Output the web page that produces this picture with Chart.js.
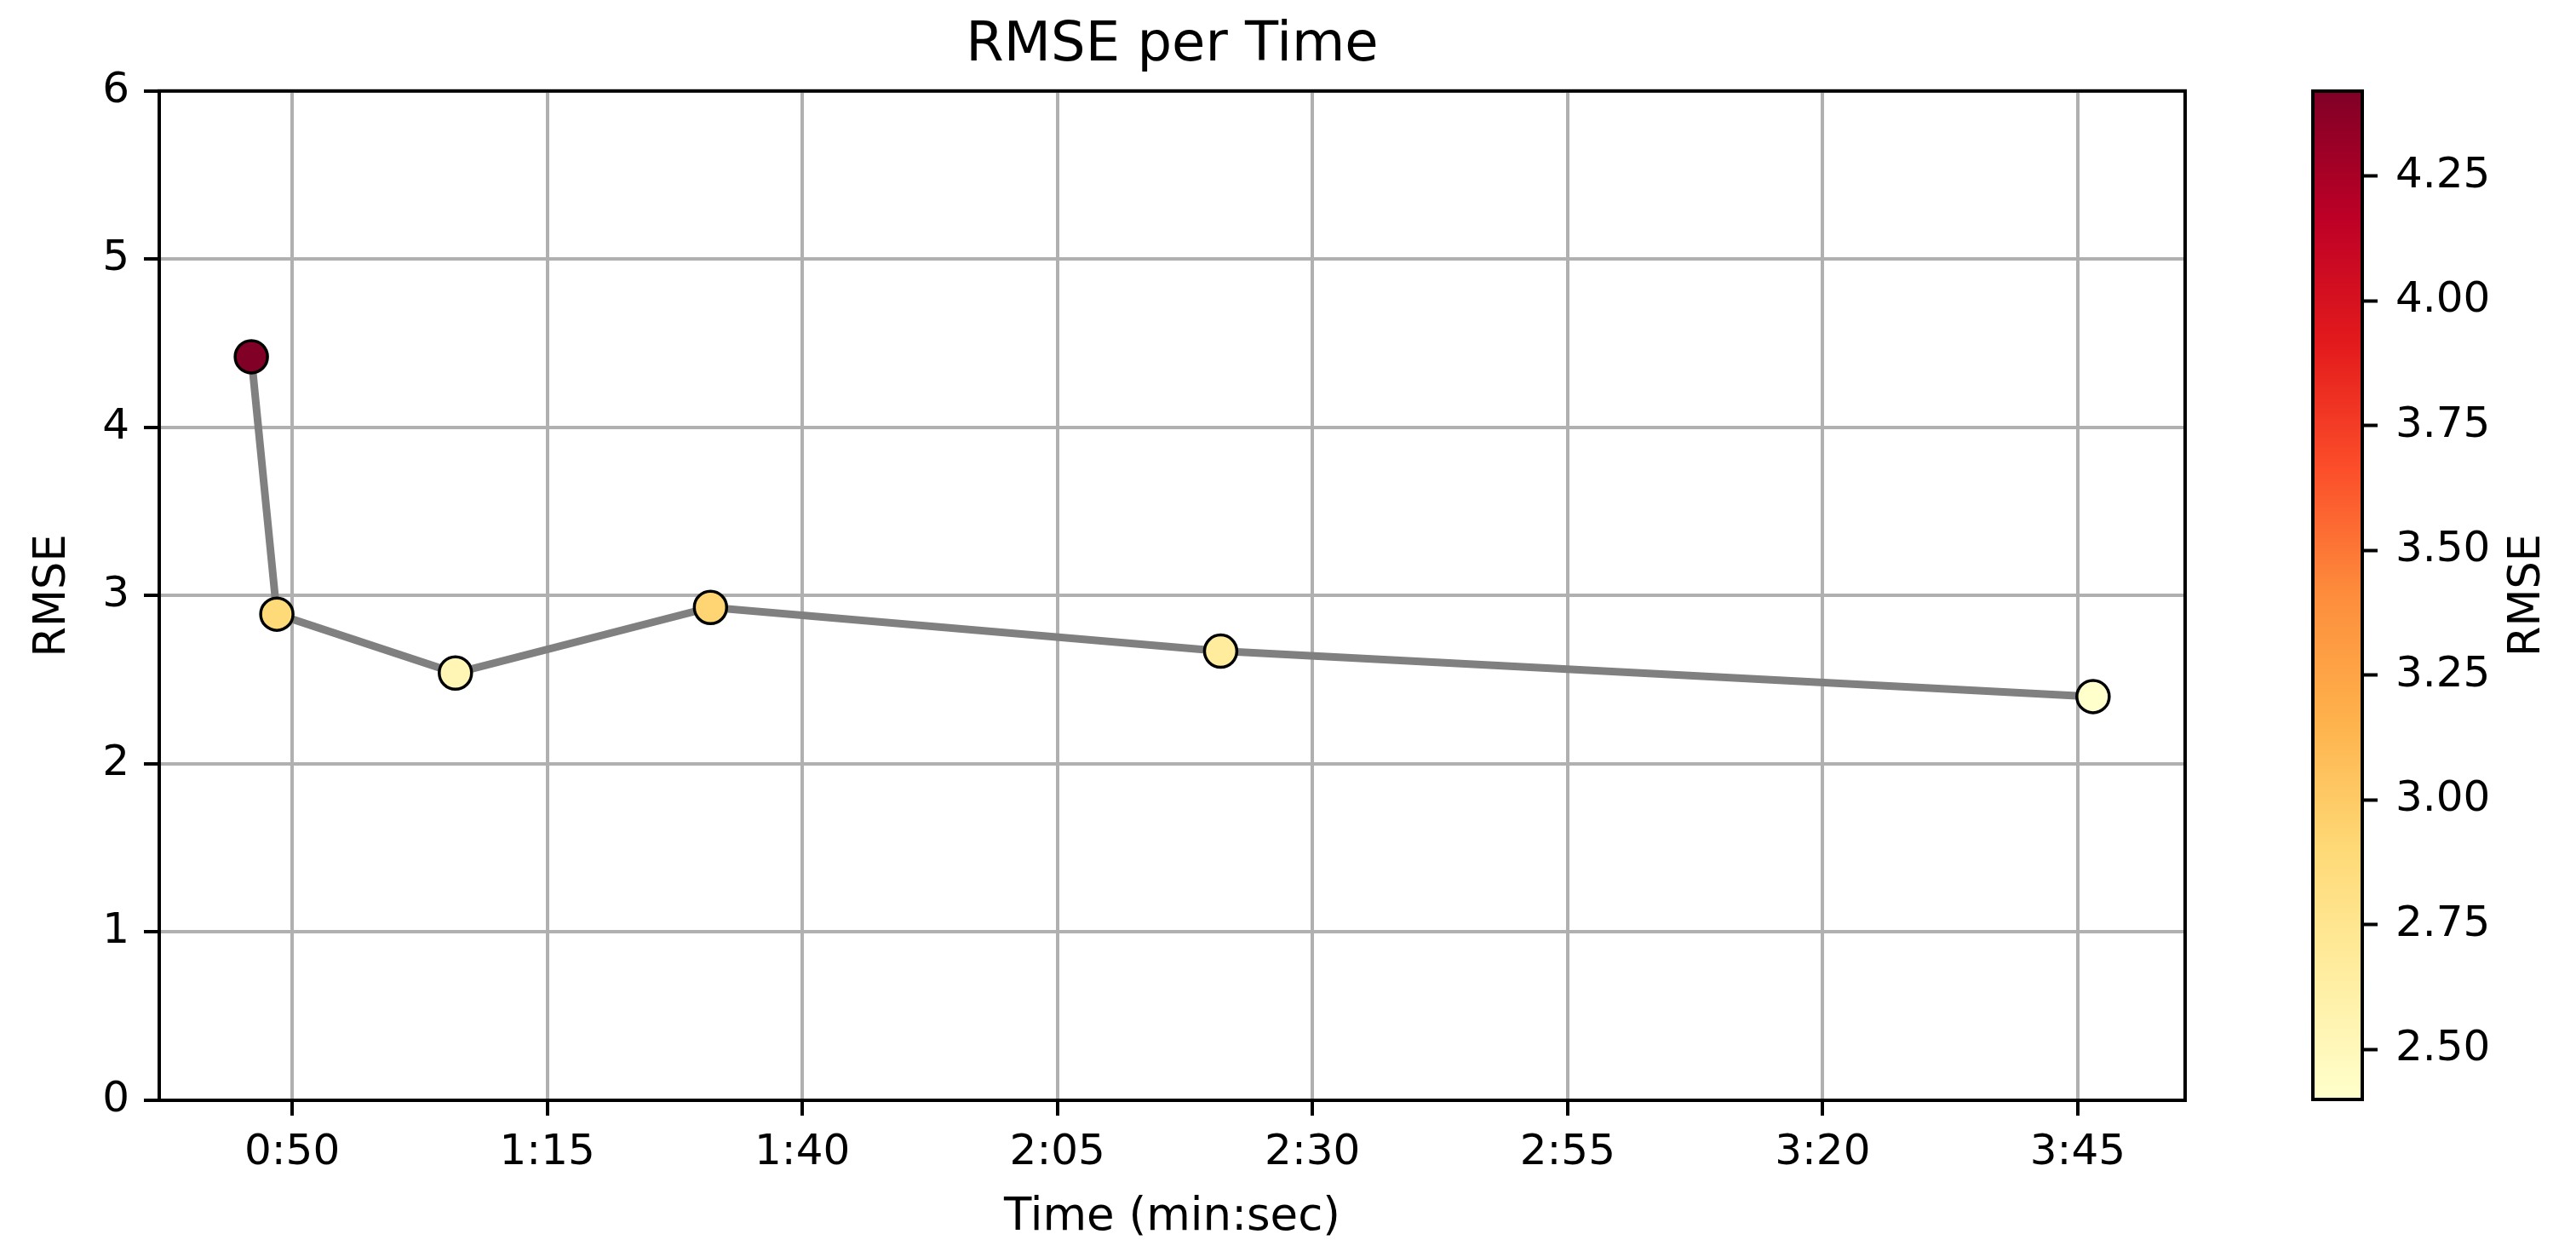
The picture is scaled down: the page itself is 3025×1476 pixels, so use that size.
<!DOCTYPE html>
<html>
<head>
<meta charset="utf-8">
<script src="https://cdn.jsdelivr.net/npm/chart.js@4/dist/chart.umd.min.js"></script>
<style>
  html, body { margin: 0; padding: 0; background: #fff; }
  #wrap { position: relative; width: 3025px; height: 1476px; }
  #main { position: absolute; left: 0; top: 0; }
  #cbar { position: absolute; left: 2650px; top: 0; }
</style>
</head>
<body>
<div id="wrap">
  <canvas id="main" width="2650" height="1476"></canvas>
  <canvas id="cbar" width="375" height="1476"></canvas>
</div>
<script>
// data
const timeSec = [46, 48.5, 66, 91, 141, 226.5];
const rmse = [4.42, 2.89, 2.54, 2.93, 2.67, 2.40];
const xTickValues = [50, 75, 100, 125, 150, 175, 200, 225];
const yTickValues = [0, 1, 2, 3, 4, 5, 6];
const cbTickValues = [2.50, 2.75, 3.00, 3.25, 3.50, 3.75, 4.00, 4.25];

// YlOrRd
const cmapStops = ['#ffffcc', '#ffeda0', '#fed976', '#feb24c', '#fd8d3c', '#fc4e2a', '#e31a1c', '#bd0026', '#800026'];

const FONT = "'DejaVu Sans', sans-serif";
Chart.defaults.font.family = FONT;
Chart.defaults.color = '#000';

const vmin = Math.min(...rmse);
const vmax = Math.max(...rmse);

function hexToRgb(h) {
    return [parseInt(h.slice(1, 3), 16), parseInt(h.slice(3, 5), 16), parseInt(h.slice(5, 7), 16)];
}
function cmap(t) {
    t = Math.max(0, Math.min(1, t));
    const pos = t * (cmapStops.length - 1);
    const i = Math.min(Math.floor(pos), cmapStops.length - 2);
    const f = pos - i;
    const a = hexToRgb(cmapStops[i]), b = hexToRgb(cmapStops[i + 1]);
    const c = a.map((v, k) => Math.round(v + (b[k] - v) * f));
    return `rgb(${c[0]},${c[1]},${c[2]})`;
}
function fmtTime(v) {
    const m = Math.floor(v / 60);
    const s = Math.round(v - m * 60);
    return m + ':' + String(s).padStart(2, '0');
}

const tmin = Math.min(...timeSec), tmax = Math.max(...timeSec);
const tpad = (tmax - tmin) * 0.05;

// box around the plot area
const frame = {
    id: 'frame',
    afterDraw(chart) {
        const a = chart.chartArea, c = chart.ctx;
        c.save();
        c.strokeStyle = '#000';
        c.lineWidth = 4;
        c.strokeRect(a.left, a.top, a.right - a.left, a.bottom - a.top);
        c.restore();
    }
};

new Chart(document.getElementById('main'), {
    type: 'scatter',
    data: {
        datasets: [{
            data: timeSec.map((t, i) => ({ x: t, y: rmse[i] })),
            showLine: true,
            borderColor: '#808080',
            borderWidth: 9,
            pointRadius: 19,
            pointHoverRadius: 19,
            pointBorderWidth: 3.5,
            pointBorderColor: '#000',
            pointBackgroundColor: rmse.map(v => cmap((v - vmin) / (vmax - vmin)))
        }]
    },
    options: {
        responsive: false,
        animation: false,
        layout: { padding: { left: 0, right: 84, top: 0, bottom: 0 } },
        plugins: {
            legend: { display: false },
            tooltip: { enabled: false },
            title: {
                display: true,
                fullSize: false,
                text: 'RMSE per Time',
                color: '#000',
                font: { size: 64, weight: 'normal' },
                padding: { top: 16, bottom: 14 }
            }
        },
        scales: {
            x: {
                type: 'linear',
                min: tmin - tpad,
                max: tmax + tpad,
                afterBuildTicks: s => { s.ticks = xTickValues.map(v => ({ value: v })); },
                afterFit: s => { s.height = 184; },
                ticks: { font: { size: 50 }, color: '#000', padding: 14, callback: v => fmtTime(v), maxRotation: 0, autoSkip: false },
                grid: { color: '#b0b0b0', lineWidth: 4, tickColor: '#000', tickLength: 18, tickWidth: 4 },
                border: { color: '#000', width: 4 },
                title: { display: true, text: 'Time (min:sec)', color: '#000', font: { size: 53 }, padding: { top: 0, bottom: 14 } }
            },
            y: {
                min: 0,
                max: 6,
                afterBuildTicks: s => { s.ticks = yTickValues.map(v => ({ value: v })); },
                afterFit: s => { s.width = 187; },
                ticks: { font: { size: 50 }, color: '#000', padding: 17 },
                grid: { color: '#b0b0b0', lineWidth: 4, tickColor: '#000', tickLength: 18, tickWidth: 4 },
                border: { color: '#000', width: 4 },
                title: { display: true, text: 'RMSE', color: '#000', font: { size: 51 }, padding: { top: 32, bottom: 0 } }
            }
        }
    },
    plugins: [frame]
});

// colorbar label, reading bottom to top
const cbLabel = {
    id: 'cbLabel',
    afterDraw(chart) {
        const a = chart.chartArea, c = chart.ctx;
        c.save();
        c.translate(chart.width - 56, (a.top + a.bottom) / 2);
        c.rotate(-Math.PI / 2);
        c.font = '51px ' + FONT;
        c.fillStyle = '#000';
        c.textAlign = 'center';
        c.textBaseline = 'middle';
        c.fillText('RMSE', 0, 0);
        c.restore();
    }
};

new Chart(document.getElementById('cbar'), {
    type: 'bar',
    data: {
        labels: ['RMSE'],
        datasets: [{
            data: [[vmin, vmax]],
            barPercentage: 1,
            categoryPercentage: 1,
            borderWidth: 0,
            backgroundColor: ctx => {
                const a = ctx.chart.chartArea;
                if (!a) return cmapStops[0];
                const g = ctx.chart.ctx.createLinearGradient(0, a.bottom, 0, a.top);
                cmapStops.forEach((col, i) => g.addColorStop(i / (cmapStops.length - 1), col));
                return g;
            }
        }]
    },
    options: {
        responsive: false,
        animation: false,
        layout: { padding: { left: 66, right: 0, top: 107, bottom: 185 } },
        plugins: { legend: { display: false }, tooltip: { enabled: false } },
        scales: {
            x: { display: false },
            y: {
                position: 'right',
                min: vmin,
                max: vmax,
                afterBuildTicks: s => { s.ticks = cbTickValues.map(v => ({ value: v })); },
                afterFit: s => { s.width = 251; },
                ticks: { font: { size: 50 }, color: '#000', padding: 21, callback: v => v.toFixed(2) },
                grid: { drawOnChartArea: false, tickColor: '#000', tickLength: 18, tickWidth: 4 },
                border: { color: '#000', width: 4 }
            }
        }
    },
    plugins: [frame, cbLabel]
});
</script>
</body>
</html>
